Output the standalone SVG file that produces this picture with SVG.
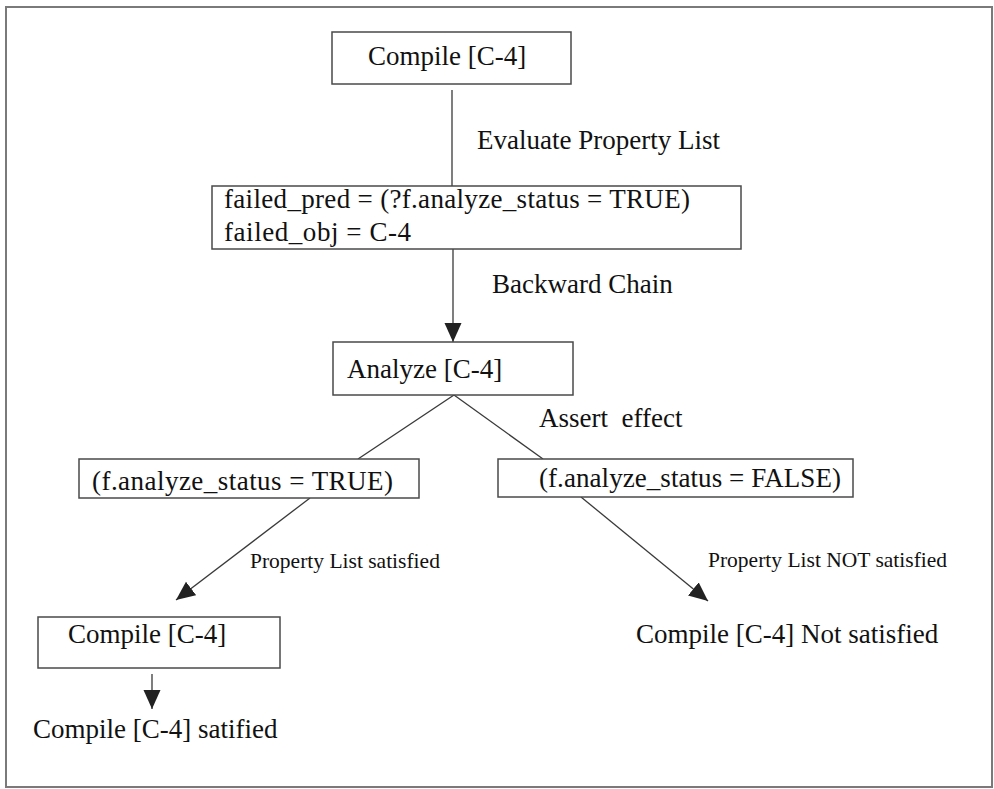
<svg xmlns="http://www.w3.org/2000/svg" width="994" height="789" viewBox="0 0 994 789">
<style>
.frame{fill:none;stroke:#7a7a7a;stroke-width:2}
.box{fill:#fff;stroke:#4a4a4a;stroke-width:1.5}
.t{font-family:"Liberation Serif","Times New Roman",serif;font-size:27px;fill:#111}
.s{font-family:"Liberation Serif","Times New Roman",serif;font-size:21.5px;fill:#111}
.ln{fill:none;stroke:#3a3a3a;stroke-width:1.3}
</style>
<defs>
<marker id="ah" markerUnits="userSpaceOnUse" markerWidth="20" markerHeight="18" refX="19" refY="8.5" orient="auto">
<path d="M0,0 L19,8.5 L0,17 Z" fill="#222"/>
</marker>
</defs>
<rect class="frame" x="6" y="7" width="986" height="780"/>
<g id="connectors">
<line class="ln" x1="452" y1="90" x2="452" y2="186"/>
<line class="ln" x1="453" y1="249" x2="453" y2="342" marker-end="url(#ah)"/>
<line class="ln" x1="454" y1="395" x2="358" y2="459"/>
<line class="ln" x1="454" y1="395" x2="543" y2="459"/>
<line class="ln" x1="310" y1="498" x2="176" y2="600" marker-end="url(#ah)"/>
<line class="ln" x1="581" y1="497" x2="708" y2="601" marker-end="url(#ah)"/>
<line class="ln" x1="152" y1="674" x2="152" y2="709" marker-end="url(#ah)"/>
<text class="t" x="477" y="149">Evaluate Property List</text>
<text class="t" x="492" y="293">Backward Chain</text>
<text class="t" x="539" y="427" xml:space="preserve">Assert  effect</text>
<text class="s" x="250" y="568">Property List satisfied</text>
<text class="s" x="708" y="567">Property List NOT satisfied</text>
</g>
<g id="compile-top">
<rect class="box" x="332" y="32" width="239" height="52"/>
<text class="t" x="368" y="65">Compile [C-4]</text>
</g>
<g id="failed">
<rect class="box" x="212" y="186" width="529" height="63"/>
<text class="t" x="224" y="208" textLength="466" lengthAdjust="spacing">failed_pred = (?f.analyze_status = TRUE)</text>
<text class="t" x="224" y="241" textLength="187" lengthAdjust="spacing">failed_obj = C-4</text>
</g>
<g id="analyze">
<rect class="box" x="333" y="342" width="240" height="53"/>
<text class="t" x="347" y="378">Analyze [C-4]</text>
</g>
<g id="status-true">
<rect class="box" x="79" y="459" width="340" height="39"/>
<text class="t" x="92" y="490" textLength="301" lengthAdjust="spacing">(f.analyze_status = TRUE)</text>
</g>
<g id="status-false">
<rect class="box" x="498" y="459" width="355" height="38"/>
<text class="t" x="539" y="487" textLength="302" lengthAdjust="spacing">(f.analyze_status = FALSE)</text>
</g>
<g id="compile-bottom">
<rect class="box" x="38" y="617" width="242" height="51"/>
<text class="t" x="68" y="643">Compile [C-4]</text>
</g>
<g id="not-satisfied">
<text class="t" x="636" y="643">Compile [C-4] Not satisfied</text>
</g>
<g id="satisfied">
<text class="t" x="33" y="738">Compile [C-4] satified</text>
</g>
</svg>
